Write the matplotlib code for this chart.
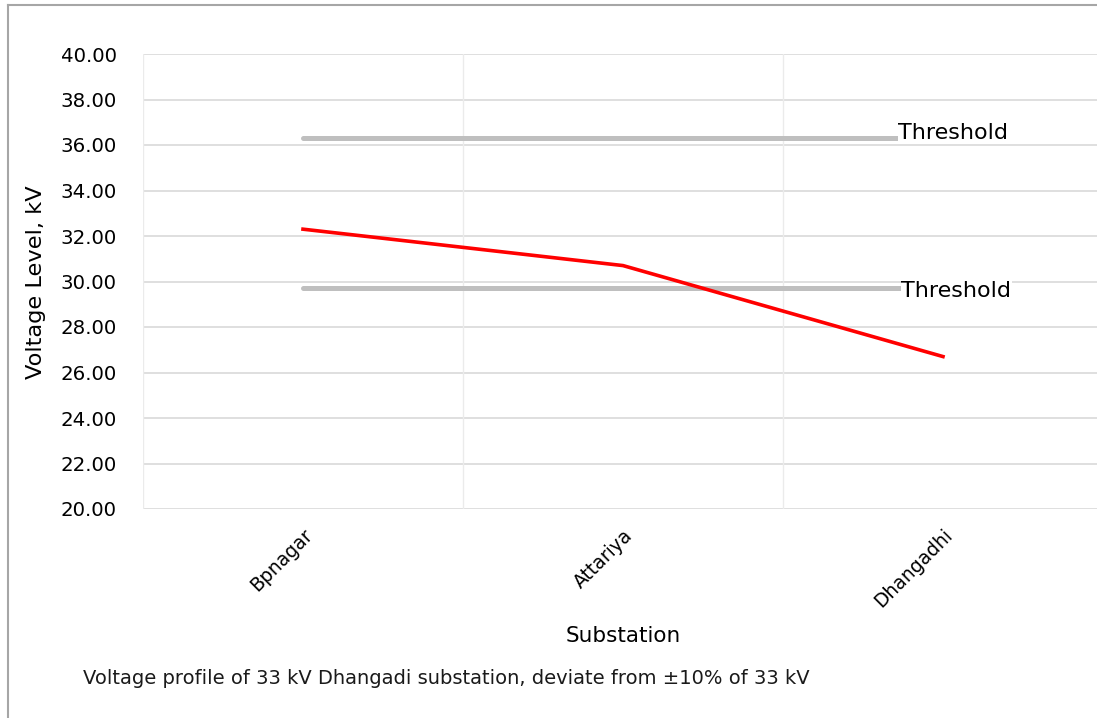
import matplotlib
matplotlib.use("Agg")
import matplotlib.pyplot as plt
from matplotlib.lines import Line2D

# Data
substations = ["Bpnagar", "Attariya", "Dhangadhi"]
voltage_kv = [32.3, 30.7, 26.7]
upper_threshold = 36.3
lower_threshold = 29.7
y_ticks = [20, 22, 24, 26, 28, 30, 32, 34, 36, 38, 40]

plt.rcParams["font.family"] = ["DejaVu Sans"]

W, H = 1097, 718
fig = plt.figure(figsize=(W / 100, H / 100), dpi=100)
fig.patch.set_facecolor("white")

# Plot area in pixel terms
left, right, top, bottom = 143, 1097, 54, 509
ax = fig.add_axes([left / W, 1 - bottom / H, (right - left) / W, (bottom - top) / H])

x = list(range(len(substations)))
ax.set_xlim(-0.5, -0.5 + (right - left) / 320)
ax.set_ylim(20, 40)

grid_color = "#D9D9D9"
for yv in y_ticks:
    ax.axhline(yv, color=grid_color, lw=1.2, zorder=0)
for xv in [-0.5, 0.5, 1.5]:
    ax.axvline(xv, color="#EBEBEB", lw=1.0, zorder=0)

for s in ax.spines.values():
    s.set_visible(False)

# Threshold lines with data labels at their right end
label_box = dict(facecolor="white", edgecolor="none", pad=0.5)
ax.plot([x[0], x[-1]], [upper_threshold] * 2, color="#BFBFBF", lw=3.6, solid_capstyle="round", zorder=2)
ax.plot([x[0], x[-1]], [lower_threshold] * 2, color="#BFBFBF", lw=3.6, solid_capstyle="round", zorder=2)
ax.text(x[-1] - 0.14, upper_threshold + 0.22, "Threshold", fontsize=16, ha="left", va="center",
        zorder=3, bbox=label_box)
ax.text(x[-1] - 0.13, lower_threshold - 0.1, "Threshold", fontsize=16, ha="left", va="center",
        zorder=3, bbox=label_box)

# Voltage profile
ax.plot(x, voltage_kv, color="#FF0000", lw=2.6, zorder=4)

ax.set_yticks(y_ticks)
ax.set_yticklabels([f"{v:.2f}" for v in y_ticks], fontsize=14.2)
ax.set_xticks(x)
ax.set_xticklabels(substations, rotation=45, ha="right", rotation_mode="anchor", fontsize=13.5)
ax.tick_params(axis="both", length=0)
ax.tick_params(axis="y", pad=19)
ax.tick_params(axis="x", pad=12)

fig.text(36 / W, 1 - 282 / H, "Voltage Level, kV", fontsize=16.2, rotation=90, ha="center", va="center")
fig.text(623 / W, 1 - 636 / H, "Substation", fontsize=15.5, ha="center", va="center")
fig.text(83 / W, 1 - 678 / H, "Voltage profile of 33 kV Dhangadi substation, deviate from \u00b110% of 33 kV",
         fontsize=14.05, ha="left", va="center", color="#1a1a1a")

# Outer frame
fig.add_artist(Line2D([8 / W, 8 / W], [0, 1 - 5 / H], transform=fig.transFigure, color="#A6A6A6", lw=1.5))
fig.add_artist(Line2D([8 / W, 1], [1 - 5 / H, 1 - 5 / H], transform=fig.transFigure, color="#A6A6A6", lw=1.5))

fig.savefig("out.png", dpi=100, facecolor="white")
